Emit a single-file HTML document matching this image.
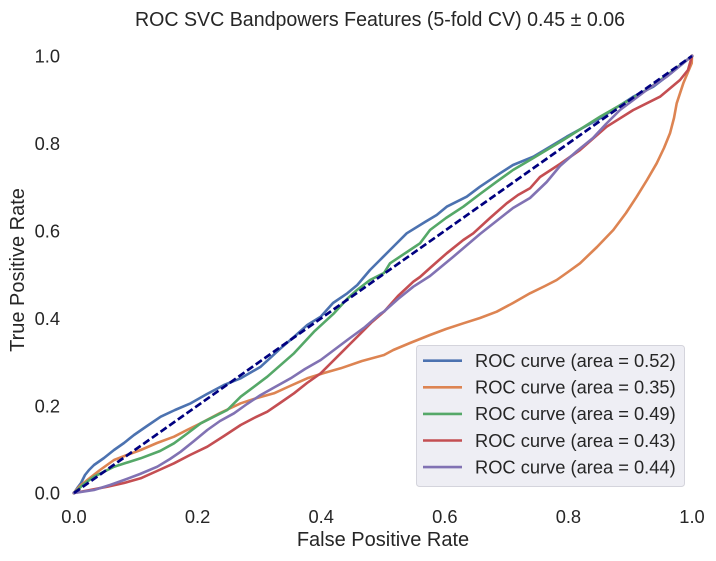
<!DOCTYPE html>
<html>
<head>
<meta charset="utf-8">
<style>
html,body{margin:0;padding:0;background:#fff;}
svg{display:block;}
text{font-family:"Liberation Sans",Arial,sans-serif;fill:#262626;}
</style>
</head>
<body>
<svg width="716" height="561" viewBox="0 0 716 561" xmlns="http://www.w3.org/2000/svg">
<rect x="0" y="0" width="716" height="561" fill="#ffffff"/>

<!-- title -->
<text x="380" y="26" font-size="20" text-anchor="middle" textLength="490" lengthAdjust="spacingAndGlyphs">ROC SVC Bandpowers Features (5-fold CV) 0.45 ± 0.06</text>

<!-- y tick labels -->
<g font-size="18.3" text-anchor="end">
<text x="60" y="62.5">1.0</text>
<text x="60" y="150">0.8</text>
<text x="60" y="237.5">0.6</text>
<text x="60" y="325">0.4</text>
<text x="60" y="412.5">0.2</text>
<text x="60" y="499.5">0.0</text>
</g>
<!-- x tick labels -->
<g font-size="18.3" text-anchor="middle">
<text x="74" y="523">0.0</text>
<text x="197.6" y="523">0.2</text>
<text x="321.2" y="523">0.4</text>
<text x="444.8" y="523">0.6</text>
<text x="568.4" y="523">0.8</text>
<text x="692" y="523">1.0</text>
</g>

<!-- axis labels -->
<text x="383" y="546" font-size="20" text-anchor="middle">False Positive Rate</text>
<text x="0" y="0" font-size="20" text-anchor="middle" transform="translate(24,270) rotate(-90)">True Positive Rate</text>

<g fill="none" stroke-width="2.6" stroke-linejoin="round" stroke-linecap="square">
<!-- blue -->
<polyline stroke="#4c72b0" points="74,493 78,487 81,483 85,475 89,470 94,465 104,458 114,450 124,443 134,435 147,426 160.7,416.7 175,410 190.7,403.3 207,394 224,385 240.7,378.3 260.7,366.7 280.7,348.3 295,336 307.3,325 320.7,316.7 333,303 347.3,293.3 357.3,285 370,270 380,260 395,245 406.7,233.3 425,222 436.7,215 446.7,206.7 466.7,196.7 480,186.7 500,173.3 513,165 533.3,156.7 566.7,136.7 600,118.3 633.3,96.7 653.3,86.7 670,74 692,56"/>
<!-- orange -->
<polyline stroke="#dd8452" points="74,493 80,486 87.3,480 100,470 114,460 127,455 140.7,450 157,443 174,436.7 187,430 200.7,423.3 220,413 240.7,403.3 257,398 274,393.3 290,386 307.3,378.3 324,373 340.7,368.3 362,361 384,355 393.3,350 410,343 430,335 446,329 463.3,323.3 480,318 496.7,311.7 513,303 530,293.3 545,286 556.7,280 568,272 580,263.3 597,247 613.3,230 626,213 636.7,196.7 647,180 656.7,163.3 664,148 670,133.3 674,118 676.7,103.3 683.3,83.3 688,72 691.7,63.3 692,56"/>
<!-- green -->
<polyline stroke="#55a868" points="74,493 84,484 94,476.7 114,466.7 140.7,458.3 160,451 174,443.3 188,433 200.7,423.3 227.3,410 240.7,396.7 267.3,376.7 294,353.3 314,331.7 334,313.3 347,299 357,290 370,280 384,273 390,263.3 410,250 420,243.3 430,230 446,218 463.3,206.7 480,194 496.7,181.7 513,170 530,160 563.3,140 600,116.7 646.7,90 670,73 692,56"/>
<!-- red -->
<polyline stroke="#c44e52" points="74,493 90,490 107.3,486.7 124,483 140.7,478.3 157,471 174,463.3 190,455 207.3,446.7 224,436 240.7,425 254,418 267.3,411.7 280,403 294,393.3 307,383 320.7,373.3 330,364 340.7,353.3 350,344 360.7,333.3 372,322 384,311.7 398,296 413.3,281.7 420,277 430,268 446.7,253.3 463.3,240 473.3,233.3 490,218 506.7,203.3 518,195 530,188.3 540,177 560,164 580,150 606.7,126.7 633.3,110 660,96.7 680,80 688,70 692,56"/>
<!-- purple -->
<polyline stroke="#8172b3" points="74,493 94,490 110,485 124,480 140,474 157.3,466.7 170,459 180.7,451.7 194,441 207.3,430 220,421 234,413.3 247,404 260.7,395 275,387 290.7,378.3 305,369 320.7,360 334,350 347.3,340 365,327 380,314 384,311.5 398,299 413.3,286.7 430,276 453,257 480,234 513,208 530,198 546.7,182 560,166 577,151 593,138 606,124 620,110 646.7,90 666.7,76.7 692,56"/>
</g>
<!-- chance line -->
<line x1="74" y1="493" x2="692" y2="56" stroke="#000080" stroke-width="2.7" stroke-dasharray="7.4 3.2"/>

<!-- legend -->
<rect x="416.5" y="345.5" width="268" height="141" rx="3" ry="3" fill="#eeeef4" stroke="#d4d4dc" stroke-width="1"/>
<g stroke-width="2.6">
<line x1="423" y1="360.7" x2="462" y2="360.7" stroke="#4c72b0"/>
<line x1="423" y1="387.3" x2="462" y2="387.3" stroke="#dd8452"/>
<line x1="423" y1="413.9" x2="462" y2="413.9" stroke="#55a868"/>
<line x1="423" y1="440.5" x2="462" y2="440.5" stroke="#c44e52"/>
<line x1="423" y1="467.1" x2="462" y2="467.1" stroke="#8172b3"/>
</g>
<g font-size="18.3">
<text x="475" y="367">ROC curve (area = 0.52)</text>
<text x="475" y="393.6">ROC curve (area = 0.35)</text>
<text x="475" y="420.2">ROC curve (area = 0.49)</text>
<text x="475" y="446.8">ROC curve (area = 0.43)</text>
<text x="475" y="473.4">ROC curve (area = 0.44)</text>
</g>
</svg>
</body>
</html>
